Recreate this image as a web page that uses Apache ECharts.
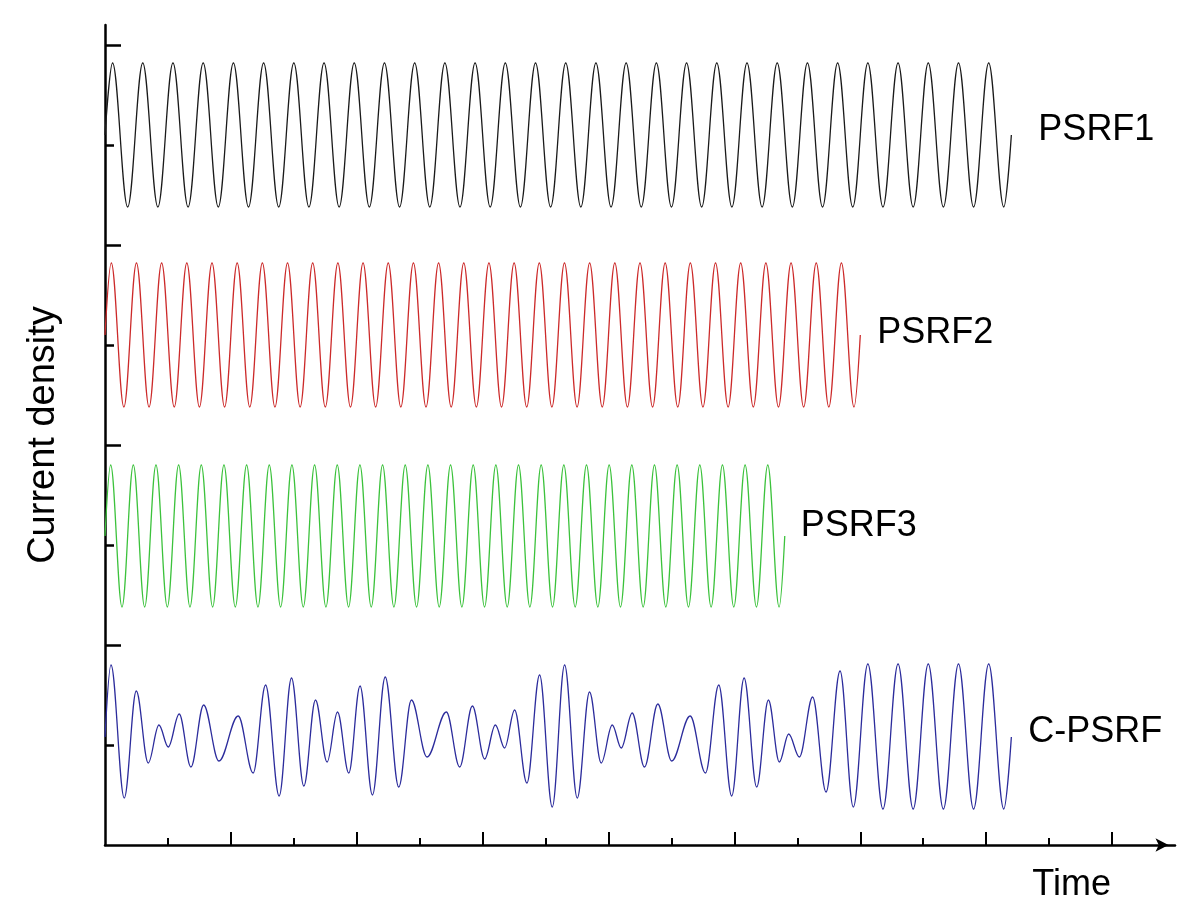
<!DOCTYPE html>
<html>
<head>
<meta charset="utf-8">
<script src="https://cdn.jsdelivr.net/npm/echarts@6/dist/echarts.min.js"></script>
<style>
html,body{margin:0;padding:0;background:#fff;}
#chart{width:1200px;height:907px;}
</style>
</head>
<body>
<div id="chart"></div>
<script>
// ---- Data (time in axis units, current density in axis units) ----
const seriesNames = ['PSRF1', 'PSRF2', 'PSRF3', 'C-PSRF'];
const xAxisName = 'Time';
const yAxisName = 'Current density';
const xMajorTicks = [2, 4, 6, 8, 10, 12, 14, 16];
const xMinorTicks = [1, 3, 5, 7, 9, 11, 13, 15];
const yMajorTicks = [2, 4, 6, 8];
const yMinorTicks = [1, 3, 5, 7];

// extrema of each waveform
const psrf1 = [
  [0,7.10],
  [0.12,7.82],[0.36,6.38],[0.60,7.82],[0.84,6.38],[1.08,7.82],[1.32,6.38],[1.56,7.82],[1.80,6.38],[2.04,7.82],[2.28,6.38],
  [2.52,7.82],[2.76,6.38],[3.00,7.82],[3.24,6.38],[3.48,7.82],[3.72,6.38],[3.96,7.82],[4.20,6.38],[4.44,7.82],[4.68,6.38],
  [4.92,7.82],[5.16,6.38],[5.40,7.82],[5.64,6.38],[5.88,7.82],[6.12,6.38],[6.36,7.82],[6.60,6.38],[6.84,7.82],[7.08,6.38],
  [7.32,7.82],[7.56,6.38],[7.80,7.82],[8.04,6.38],[8.28,7.82],[8.52,6.38],[8.76,7.82],[9.00,6.38],[9.24,7.82],[9.48,6.38],
  [9.72,7.82],[9.96,6.38],[10.20,7.82],[10.44,6.38],[10.68,7.82],[10.92,6.38],[11.16,7.82],[11.40,6.38],[11.64,7.82],[11.88,6.38],
  [12.12,7.82],[12.36,6.38],[12.60,7.82],[12.84,6.38],[13.08,7.82],[13.32,6.38],[13.56,7.82],[13.80,6.38],[14.04,7.82],[14.28,6.38],
  [14.40,7.10]
];
const psrf2 = [
  [0,5.10],
  [0.1,5.82],[0.3,4.38],[0.5,5.82],[0.7,4.38],[0.9,5.82],[1.1,4.38],[1.3,5.82],[1.5,4.38],[1.7,5.82],[1.9,4.38],
  [2.1,5.82],[2.3,4.38],[2.5,5.82],[2.7,4.38],[2.9,5.82],[3.1,4.38],[3.3,5.82],[3.5,4.38],[3.7,5.82],[3.9,4.38],
  [4.1,5.82],[4.3,4.38],[4.5,5.82],[4.7,4.38],[4.9,5.82],[5.1,4.38],[5.3,5.82],[5.5,4.38],[5.7,5.82],[5.9,4.38],
  [6.1,5.82],[6.3,4.38],[6.5,5.82],[6.7,4.38],[6.9,5.82],[7.1,4.38],[7.3,5.82],[7.5,4.38],[7.7,5.82],[7.9,4.38],
  [8.1,5.82],[8.3,4.38],[8.5,5.82],[8.7,4.38],[8.9,5.82],[9.1,4.38],[9.3,5.82],[9.5,4.38],[9.7,5.82],[9.9,4.38],
  [10.1,5.82],[10.3,4.38],[10.5,5.82],[10.7,4.38],[10.9,5.82],[11.1,4.38],[11.3,5.82],[11.5,4.38],[11.7,5.82],[11.9,4.38],
  [12.0,5.10]
];
const psrf3 = [
  [0,3.09],
  [0.09,3.80],[0.27,2.38],[0.45,3.80],[0.63,2.38],[0.81,3.80],[0.99,2.38],[1.17,3.80],[1.35,2.38],[1.53,3.80],[1.71,2.38],
  [1.89,3.80],[2.07,2.38],[2.25,3.80],[2.43,2.38],[2.61,3.80],[2.79,2.38],[2.97,3.80],[3.15,2.38],[3.33,3.80],[3.51,2.38],
  [3.69,3.80],[3.87,2.38],[4.05,3.80],[4.23,2.38],[4.41,3.80],[4.59,2.38],[4.77,3.80],[4.95,2.38],[5.13,3.80],[5.31,2.38],
  [5.49,3.80],[5.67,2.38],[5.85,3.80],[6.03,2.38],[6.21,3.80],[6.39,2.38],[6.57,3.80],[6.75,2.38],[6.93,3.80],[7.11,2.38],
  [7.29,3.80],[7.47,2.38],[7.65,3.80],[7.83,2.38],[8.01,3.80],[8.19,2.38],[8.37,3.80],[8.55,2.38],[8.73,3.80],[8.91,2.38],
  [9.09,3.80],[9.27,2.38],[9.45,3.80],[9.63,2.38],[9.81,3.80],[9.99,2.38],[10.17,3.80],[10.35,2.38],[10.53,3.80],[10.71,2.38],
  [10.80,3.09]
];
const cpsrf = [
  [0,1.08],[0.095,1.80],[0.306,0.47],[0.497,1.54],[0.687,0.82],[0.857,1.20],[1.005,0.98],[1.179,1.31],[1.365,0.78],
  [1.567,1.40],[1.810,0.84],[2.116,1.29],[2.354,0.72],[2.551,1.60],[2.767,0.49],[2.963,1.67],[3.159,0.59],[3.344,1.45],
  [3.529,0.83],[3.694,1.33],[3.873,0.72],[4.052,1.59],[4.249,0.50],[4.452,1.68],[4.667,0.58],[4.868,1.45],[5.116,0.88],
  [5.424,1.33],[5.635,0.78],[5.837,1.39],[6.032,0.86],[6.202,1.20],[6.349,0.97],[6.508,1.35],[6.703,0.62],[6.905,1.70],
  [7.106,0.38],[7.302,1.80],[7.503,0.47],[7.698,1.53],[7.884,0.82],[8.059,1.20],[8.202,0.97],[8.376,1.32],[8.571,0.78],
  [8.783,1.41],[9.003,0.84],[9.297,1.29],[9.540,0.72],[9.751,1.60],[9.957,0.49],[10.154,1.67],[10.354,0.58],[10.540,1.45],
  [10.714,0.83],[10.862,1.11],[11.032,0.88],[11.243,1.48],[11.456,0.53],[11.678,1.74],[11.889,0.38],[12.12,1.81],
  [12.36,0.36],[12.60,1.81],[12.84,0.36],[13.08,1.81],[13.32,0.36],[13.56,1.81],[13.80,0.36],[14.04,1.81],[14.28,0.36],
  [14.40,1.08]
];
const seriesData = [psrf1, psrf2, psrf3, cpsrf];

// ---- Styles ----
const FONT = 'Liberation Sans, Arial, Helvetica, sans-serif';
const lineColors = ['#1a1a1a', '#cc2a2a', '#3cc23c', '#2c2c9c'];
const labelDistance = [27, 17, 16, 17];
const labelOffsetY = [-5, -2, -10, -5];

const chart = echarts.init(document.getElementById('chart'), null, {renderer: 'canvas'});

const baseX = {
  type: 'value', min: 0, max: 17, position: 'bottom',
  splitLine: {show: false}, axisLabel: {show: false}
};
const baseY = {
  type: 'value', min: 0, max: 8.2, position: 'left',
  splitLine: {show: false}, axisLabel: {show: false}
};

const option = {
  animation: false,
  backgroundColor: '#ffffff',
  grid: {left: 105, right: 25, top: 25, bottom: 62, containLabel: false},
  xAxis: [
    Object.assign({}, baseX, {
      name: xAxisName,
      nameLocation: 'end',
      nameGap: -64,
      nameTextStyle: {fontFamily: FONT, fontSize: 36, color: '#000', align: 'right', verticalAlign: 'top', lineHeight: 36, padding: [22, 0, 0, 0]},
      axisLine: {show: true, lineStyle: {color: '#000', width: 2.5}, symbol: ['none', 'arrow'], symbolSize: [10, 13], symbolOffset: [0, -6.5]},
      axisTick: {show: true, inside: true, length: 13, customValues: xMajorTicks, lineStyle: {color: '#000', width: 2}}
    }),
    Object.assign({}, baseX, {
      axisLine: {show: false},
      axisTick: {show: true, inside: true, length: 7, customValues: xMinorTicks, lineStyle: {color: '#000', width: 2}}
    })
  ],
  yAxis: [
    Object.assign({}, baseY, {
      name: yAxisName,
      nameLocation: 'middle',
      nameRotate: 90,
      nameGap: 42,
      nameTextStyle: {fontFamily: FONT, fontSize: 38, color: '#000'},
      axisLine: {show: true, lineStyle: {color: '#000', width: 2.5}},
      axisTick: {show: true, inside: true, length: 16, customValues: yMajorTicks, lineStyle: {color: '#000', width: 2.5}}
    }),
    Object.assign({}, baseY, {
      axisLine: {show: false},
      axisTick: {show: true, inside: true, length: 9, customValues: yMinorTicks, lineStyle: {color: '#000', width: 2.5}}
    })
  ],
  series: seriesData.map((d, i) => ({
    name: seriesNames[i],
    type: 'line',
    xAxisIndex: 0,
    yAxisIndex: 0,
    data: d,
    showSymbol: false,
    smooth: 0.36,
    smoothMonotone: 'x',
    lineStyle: {color: lineColors[i], width: 1.3},
    itemStyle: {color: lineColors[i]},
    endLabel: {
      show: true,
      formatter: '{a}',
      fontFamily: FONT,
      fontSize: 36,
      color: '#000',
      distance: labelDistance[i],
      offset: [0, labelOffsetY[i]]
    },
    emphasis: {disabled: true}
  }))
};
chart.setOption(option);
</script>
</body>
</html>
